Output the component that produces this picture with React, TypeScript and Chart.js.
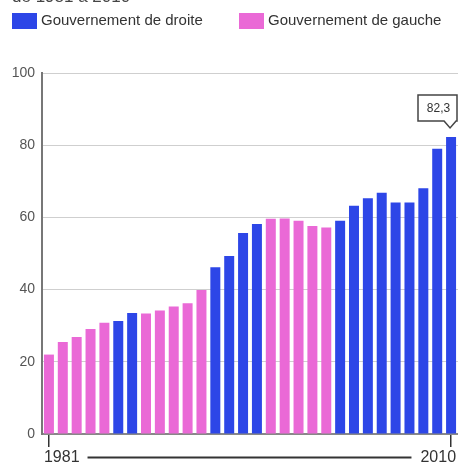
import React, { useEffect, useRef } from "react";
import { Chart, registerables } from "chart.js";

Chart.register(...registerables);

const years: string[] = [
  "1981", "1982", "1983", "1984", "1985", "1986", "1987", "1988", "1989", "1990",
  "1991", "1992", "1993", "1994", "1995", "1996", "1997", "1998", "1999", "2000",
  "2001", "2002", "2003", "2004", "2005", "2006", "2007", "2008", "2009", "2010",
];
const values: number[] = [
  22.0, 25.5, 26.9, 29.1, 30.8, 31.3, 33.5, 33.4, 34.2, 35.3,
  36.2, 39.9, 46.2, 49.3, 55.7, 58.2, 59.6, 59.7, 59.1, 57.6,
  57.2, 59.1, 63.2, 65.3, 66.8, 64.1, 64.1, 68.1, 79.0, 82.3,
];
// D = gouvernement de droite, G = gouvernement de gauche
const government: string[] = [
  "G", "G", "G", "G", "G", "D", "D", "G", "G", "G",
  "G", "G", "D", "D", "D", "D", "G", "G", "G", "G",
  "G", "D", "D", "D", "D", "D", "D", "D", "D", "D",
];
const legendLabels: string[] = ["Gouvernement de droite", "Gouvernement de gauche"];
const yTicks: number[] = [0, 20, 40, 60, 80, 100];
const highlightLabel = "82,3";
const subtitle = "de 1981 à 2010";

const BLUE = "#2d46e7";
const PINK = "#ea69d6";
const FONT = "'Liberation Sans', Arial, sans-serif";

const droite = values.map((v, i) => (government[i] === "D" ? v : null));
const gauche = values.map((v, i) => (government[i] === "G" ? v : null));

const overlay = {
  id: "overlay",
  afterDraw(chart: any) {
    const ctx = chart.ctx as CanvasRenderingContext2D;
    const xs = chart.scales.x;
    const ys = chart.scales.y;
    ctx.save();
    // subtitle (cut at top)
    ctx.fillStyle = "#444";
    ctx.font = `17px ${FONT}`;
    ctx.textBaseline = "alphabetic";
    ctx.textAlign = "left";
    ctx.fillText(subtitle, 12, 2);

    // legend
    const items = [
      { x: 12, color: BLUE, text: legendLabels[0] },
      { x: 239, color: PINK, text: legendLabels[1] },
    ];
    ctx.font = `15px ${FONT}`;
    ctx.textBaseline = "middle";
    for (const it of items) {
      ctx.fillStyle = it.color;
      ctx.fillRect(it.x, 13, 25, 16);
      ctx.fillStyle = "#333";
      ctx.fillText(it.text, it.x + 29, 21);
    }

    // x labels and connecting line
    const last = years.length - 1;
    const x0 = xs.getPixelForValue(0);
    const x1 = xs.getPixelForValue(last);
    ctx.font = `16px ${FONT}`;
    ctx.textBaseline = "alphabetic";
    ctx.fillStyle = "#333";
    ctx.textAlign = "left";
    ctx.fillText(years[0], x0 - 5, 462);
    const w0 = ctx.measureText(years[0]).width;
    ctx.textAlign = "right";
    ctx.fillText(years[last], x1 + 5, 462);
    const w1 = ctx.measureText(years[last]).width;
    ctx.strokeStyle = "#333";
    ctx.lineWidth = 2;
    ctx.beginPath();
    ctx.moveTo(x0 - 5 + w0 + 8, 457.5);
    ctx.lineTo(x1 + 5 - w1 - 9, 457.5);
    ctx.stroke();

    // annotation on last bar
    const bx = xs.getPixelForValue(last);
    const by = ys.getPixelForValue(values[last]);
    const tipY = by - 9;
    const boxB = tipY - 7;
    const boxT = boxB - 26;
    const boxL = 418;
    const boxR = 457;
    ctx.beginPath();
    ctx.moveTo(boxL, boxT);
    ctx.lineTo(boxR, boxT);
    ctx.lineTo(boxR, boxB);
    ctx.lineTo(bx + 5, boxB);
    ctx.lineTo(bx - 1, tipY);
    ctx.lineTo(bx - 7, boxB);
    ctx.lineTo(boxL, boxB);
    ctx.closePath();
    ctx.fillStyle = "#fff";
    ctx.fill();
    ctx.strokeStyle = "#444";
    ctx.lineWidth = 1.5;
    ctx.stroke();
    ctx.fillStyle = "#333";
    ctx.font = `12px ${FONT}`;
    ctx.textAlign = "center";
    ctx.textBaseline = "middle";
    ctx.fillText(highlightLabel, (boxL + boxR) / 2 + 1, (boxT + boxB) / 2 + 1);
    ctx.restore();
  },
};

export default function App() {
  const ref = useRef<HTMLCanvasElement | null>(null);
  useEffect(() => {
    if (!ref.current) return;
    const last = years.length - 1;
    const chart = new Chart(ref.current, {
      type: "bar",
      data: {
        labels: years,
        datasets: [
          { label: legendLabels[0], data: droite as any, backgroundColor: BLUE, barPercentage: 0.72, categoryPercentage: 1 },
          { label: legendLabels[1], data: gauche as any, backgroundColor: PINK, barPercentage: 0.72, categoryPercentage: 1 },
        ],
      },
      options: {
        responsive: false,
        animation: false,
        layout: { padding: { top: 73, left: 0, right: 0, bottom: 0 } },
        plugins: { legend: { display: false }, tooltip: { enabled: false } },
        scales: {
          x: {
            stacked: true,
            grid: {
              display: true,
              offset: false,
              drawOnChartArea: false,
              drawTicks: true,
              tickLength: 13,
              lineWidth: 1.5,
              color: (c: any) => (c.index === 0 || c.index === last ? "#333" : "rgba(0,0,0,0)"),
            },
            border: { display: true, color: "#888", width: 2 },
            ticks: { display: false, autoSkip: false },
            afterFit: (s: any) => {
              s.height = 28;
            },
          },
          y: {
            stacked: true,
            min: 0,
            max: 100,
            afterBuildTicks: (s: any) => {
              s.ticks = yTicks.map((v) => ({ value: v }));
            },
            grid: { color: "#cfcfcf", lineWidth: 1, drawTicks: false },
            border: { display: true, color: "#777", width: 2 },
            ticks: {
              padding: 7,
              color: "#555",
              font: { family: FONT, size: 14 },
            },
            afterFit: (s: any) => {
              s.width = 42;
            },
          },
        },
      },
      plugins: [overlay],
    });
    return () => chart.destroy();
  }, []);
  return (
    <div style={{ position: "fixed", left: 0, top: 0, width: 458, height: 462, background: "#fff" }}>
      <canvas ref={ref} width={458} height={462} style={{ display: "block" }} />
    </div>
  );
}
